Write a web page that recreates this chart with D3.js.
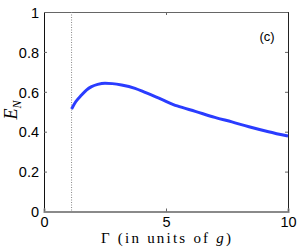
<!DOCTYPE html>
<html>
<head>
<meta charset="utf-8">
<script src="https://cdn.jsdelivr.net/npm/d3@7"></script>
<style>
  html, body { margin: 0; padding: 0; background: #fff; }
  svg { display: block; }
  .tick text { font-family: "Liberation Sans", Arial, sans-serif; font-size: 14.5px; fill: #000; }
</style>
</head>
<body>
<div id="chart"></div>
<script>
// values
const gamma = [1.13, 1.3, 1.54, 1.75, 1.95, 2.2, 2.5, 2.8, 3.18, 3.73, 4.14, 4.8, 5.46, 6.2, 7.0, 7.7, 8.4, 9.2, 10];
const en = [0.514, 0.55, 0.584, 0.61, 0.626, 0.637, 0.643, 0.641, 0.634, 0.617, 0.597, 0.563, 0.529, 0.502, 0.472, 0.449, 0.425, 0.4, 0.378];
const xTicks = [0, 5, 10];
const yTicks = [0, 0.2, 0.4, 0.6, 0.8, 1];
const cutoff = 1.13; // dotted line

const width = 300, height = 252;
const margin = { top: 12, right: 12, bottom: 40.5, left: 44 };

const svg = d3.select("#chart").append("svg")
  .attr("width", width)
  .attr("height", height);

const x = d3.scaleLinear().domain([0, 10]).range([margin.left, width - margin.right]);
const y = d3.scaleLinear().domain([0, 1]).range([height - margin.bottom, margin.top]);

// frame: top and right thin
svg.append("g")
  .attr("transform", `translate(0,${margin.top})`)
  .call(d3.axisTop(x).tickValues(xTicks).tickSize(-3).tickFormat(""))
  .call(g => g.select(".domain").attr("stroke", "#666"))
  .call(g => g.selectAll(".tick line").attr("stroke", "#666"));

svg.append("g")
  .attr("transform", `translate(${width - margin.right},0)`)
  .call(d3.axisRight(y).tickValues(yTicks).tickSize(-3).tickFormat(""))
  .call(g => g.select(".domain").attr("stroke", "#222"))
  .call(g => g.selectAll(".tick line").attr("stroke", "#666"));

// dotted vertical line
svg.append("line")
  .attr("x1", x(cutoff)).attr("x2", x(cutoff))
  .attr("y1", y(1)).attr("y2", y(0))
  .attr("stroke", "#888")
  .attr("stroke-width", 1)
  .attr("stroke-dasharray", "1,1.5");

// left axis
svg.append("g")
  .attr("transform", `translate(${margin.left},0)`)
  .call(d3.axisLeft(y).tickValues(yTicks).tickSize(-3).tickPadding(5).tickFormat(d3.format("~g")))
  .call(g => g.select(".domain").attr("stroke", "#111"))
  .call(g => g.selectAll(".tick line").attr("stroke", "#666"))
  .call(g => g.selectAll(".tick text").attr("dy", "0.36em"));

// bottom axis
svg.append("g")
  .attr("transform", `translate(0,${y(0)})`)
  .call(d3.axisBottom(x).tickValues(xTicks).tickSize(-3).tickPadding(5).tickFormat(d3.format("~g")))
  .call(g => g.select(".domain").attr("stroke", "#8a8a8a").attr("stroke-width", 2))
  .call(g => g.selectAll(".tick line").attr("stroke", "#666"));

// curve
const line = d3.line()
  .x((d, i) => x(gamma[i]))
  .y(d => y(d))
  .curve(d3.curveMonotoneX);

svg.append("path")
  .datum(en)
  .attr("fill", "none")
  .attr("stroke", "#2a3cff")
  .attr("stroke-width", 3)
  .attr("d", line);

// panel tag
svg.append("text")
  .attr("x", 267).attr("y", 41)
  .attr("text-anchor", "middle")
  .attr("font-family", "Liberation Sans, Arial, sans-serif")
  .attr("font-size", 13)
  .text("(c)");

// x label
const xl = svg.append("text")
  .attr("x", 166).attr("y", 243)
  .attr("text-anchor", "middle")
  .attr("textLength", 130)
  .attr("lengthAdjust", "spacing")
  .attr("font-family", "Liberation Serif, 'DejaVu Serif', serif")
  .attr("font-size", 15);
xl.append("tspan").text("Γ (in units of ");
xl.append("tspan").attr("font-style", "italic").text("g");
xl.append("tspan").text(")");

// y label
const yl = svg.append("text")
  .attr("transform", "translate(17,110) rotate(-90)")
  .attr("text-anchor", "middle")
  .attr("font-family", "Liberation Serif, 'DejaVu Serif', serif")
  .attr("font-size", 18);
yl.append("tspan").attr("font-style", "italic").text("E");
yl.append("tspan").attr("font-style", "italic").attr("font-size", 12).attr("dy", 4).text("N");
</script>
</body>
</html>
